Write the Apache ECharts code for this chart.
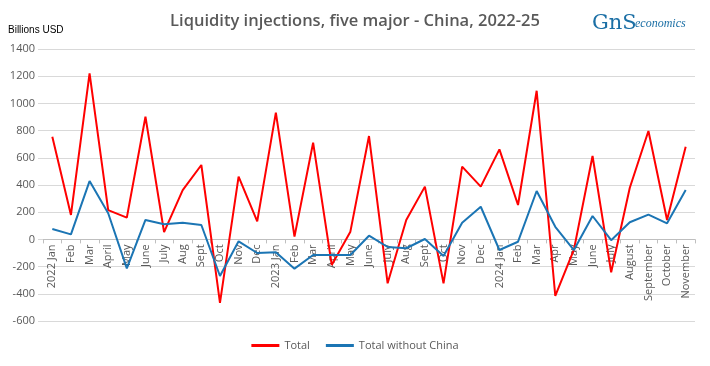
<!DOCTYPE html>
<html><head><meta charset="utf-8">
<script src="https://cdn.jsdelivr.net/npm/echarts@6/dist/echarts.min.js"></script>
<style>html,body{margin:0;padding:0;background:#fff}#c{width:710px;height:366px}</style>
</head><body><div id="c"></div>
<script>
const categories = ["2022 Jan","Feb","Mar","April","May","June","July","Aug","Sept","Oct","Nov","Dec",
  "2023 Jan","Feb","Mar","April","May","June","July","Aug","Sept","Oct","Nov","Dec",
  "2024 Jan","Feb","Mar","Apr","May","June","July","August","September","October","November"];
const total = [755,180,1220,215,160,902,54,363,547,-466,461,133,
  932,20,711,-188,57,760,-323,143,388,-323,535,388,
  662,253,1093,-416,-75,613,-242,380,797,143,682];
const totalExChina = [76,37,429,192,-213,143,111,123,106,-269,-14,-100,
  -95,-215,-115,-115,-115,27,-56,-65,3,-122,123,240,
  -78,-17,356,93,-78,172,-6,126,182,118,363];
const yTicks = {min:-600, max:1400, interval:200};

const gridTop = 49, gridBottom = 45, H = 366;
const plotH = H - gridTop - gridBottom;
const zeroShift = plotH * (0 - yTicks.min) / (yTicks.max - yTicks.min);

const chart = echarts.init(document.getElementById('c'));
const txt = '#595959';
chart.setOption({
  animation:false,
  title:{text:'Liquidity injections, five major - China, 2022-25', left:'center', top:8,
    textStyle:{fontFamily:'Open Sans', fontSize:16.5, fontWeight:600, color:'#595959'}},
  graphic:[
    {type:'text', left:8, top:25, style:{text:'Billions USD', fontFamily:'Liberation Sans', fontSize:10, fill:'#000'}},
    {type:'text', left:592, top:13, style:{text:'GnS', fontFamily:'DejaVu Serif', fontSize:21, fill:'#1b6fa5'}},
    {type:'text', left:635, top:18, style:{text:'economics', fontFamily:'Liberation Serif', fontStyle:'italic', fontSize:12, fill:'#1b6fa5'}}
  ],
  legend:{bottom:10, left:'center', itemWidth:28, itemHeight:3, itemGap:16,
    icon:'rect',
    textStyle:{fontFamily:'Open Sans', fontSize:11, color:txt},
    data:['Total','Total without China']},
  grid:{left:43, right:15, top:gridTop, bottom:gridBottom, containLabel:false, outerBoundsMode:'none'},
  xAxis:{type:'category', data:categories, boundaryGap:true, position:'bottom', offset:-zeroShift,
    axisLine:{onZero:false, lineStyle:{color:'#bfbfbf'}},
    axisTick:{show:true, length:4, lineStyle:{color:'#bfbfbf'}},
    axisLabel:{rotate:90, interval:0, fontFamily:'Open Sans', fontSize:11, color:txt, margin:5}},
  yAxis:{type:'value', min:yTicks.min, max:yTicks.max, interval:yTicks.interval,
    axisLine:{show:false},
    axisTick:{show:true, length:5, lineStyle:{color:'#d9d9d9'}},
    splitLine:{lineStyle:{color:'#d9d9d9'}},
    axisLabel:{fontFamily:'Open Sans', fontSize:11, color:txt, margin:8, formatter:v=>String(v)}},
  series:[
    {name:'Total', type:'line', data:total, symbol:'none', lineStyle:{color:'#ff0000', width:2}, itemStyle:{color:'#ff0000'}},
    {name:'Total without China', type:'line', data:totalExChina, symbol:'none', lineStyle:{color:'#1b75b4', width:2}, itemStyle:{color:'#1b75b4'}}
  ]
});
</script></body></html>
